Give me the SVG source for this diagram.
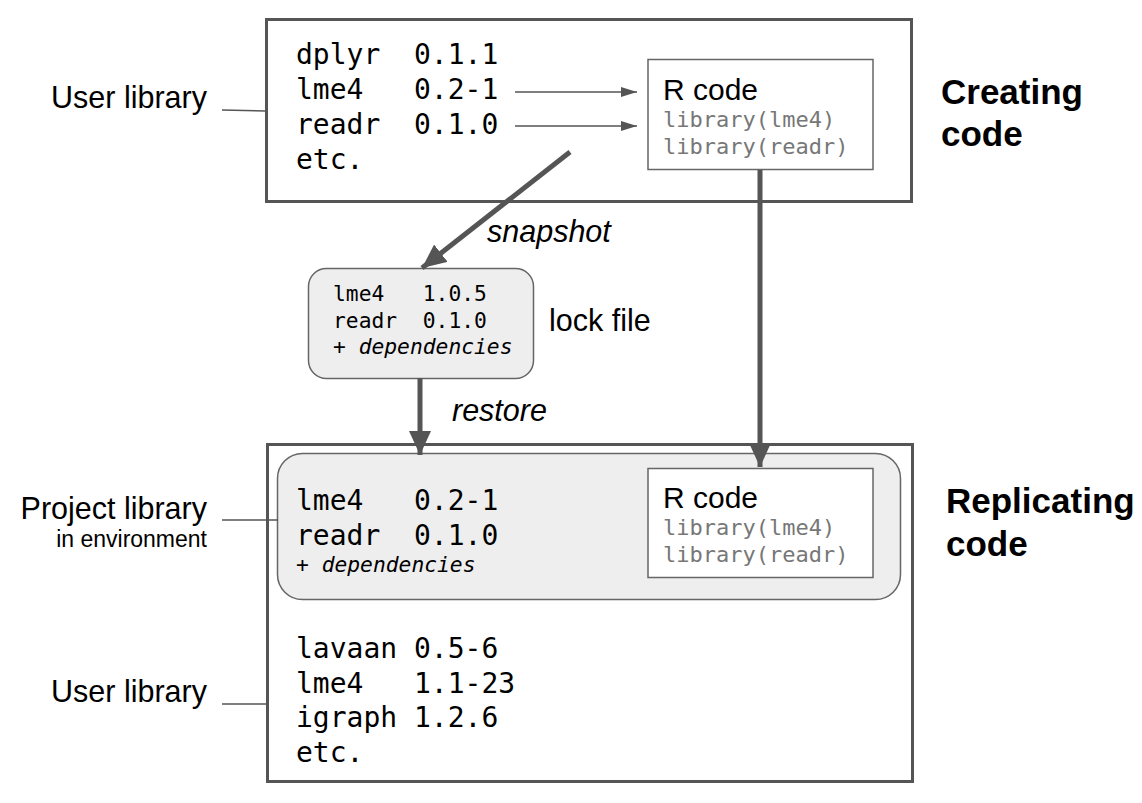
<svg xmlns="http://www.w3.org/2000/svg" width="1142" height="803" viewBox="0 0 1142 803">
<style>
.frame{fill:#fff;stroke:#555;stroke-width:3}
.box{fill:#fff;stroke:#666;stroke-width:1.5}
.gbox{fill:#eee;stroke:#666;stroke-width:1.5}
.mono{font-family:"DejaVu Sans Mono","Liberation Mono",monospace;fill:#000}
.big{font-size:28px}
.small{font-size:21.3px}
.lib{font-family:"DejaVu Sans Mono","Liberation Mono",monospace;font-size:22px;fill:#777}
.sans{font-family:"Liberation Sans",Arial,sans-serif;fill:#000}
.lbl{font-size:30.5px}
.bold{font-family:"Liberation Sans",Arial,sans-serif;font-weight:bold;font-size:35px;fill:#000}
.thin{stroke:#555;stroke-width:1.5;fill:none}
.thick{stroke:#555;stroke-width:5;fill:none}
</style>
<defs>
<marker id="ahs" markerWidth="16" markerHeight="10" refX="16" refY="5" orient="auto" markerUnits="userSpaceOnUse" viewBox="0 0 16 10"><path d="M0,0L16,5L0,10z" fill="#555"/></marker>
<marker id="ahb" markerWidth="24" markerHeight="22" refX="24" refY="11" orient="auto" markerUnits="userSpaceOnUse" viewBox="0 0 24 22"><path d="M0,0L24,11L0,22z" fill="#555"/></marker>
</defs>
<g id="top-frame">
<rect class="frame" x="266.5" y="19.5" width="645" height="182"/>
<text class="mono big" x="296" y="64" xml:space="preserve">dplyr  0.1.1</text>
<text class="mono big" x="296" y="99" xml:space="preserve">lme4   0.2-1</text>
<text class="mono big" x="296" y="134" xml:space="preserve">readr  0.1.0</text>
<text class="mono big" x="296" y="169">etc.</text>
</g>
<g id="top-rcode">
<rect class="box" x="648" y="59.5" width="225" height="110"/>
<text class="sans" x="663" y="100" font-size="30">R code</text>
<text class="lib" x="663" y="127">library(lme4)</text>
<text class="lib" x="663" y="154">library(readr)</text>
</g>
<g id="creating-label"><text class="bold" x="941" y="104">Creating</text><text class="bold" x="941" y="146">code</text></g>
<g id="user-lib-top"><text class="sans lbl" x="207" y="108" text-anchor="end">User library</text></g>
<g id="lockfile">
<rect class="gbox" x="308.5" y="268.5" width="225" height="110" rx="18"/>
<text class="mono small" x="333" y="301" xml:space="preserve">lme4   1.0.5</text>
<text class="mono small" x="333" y="328" xml:space="preserve">readr  0.1.0</text>
<text class="mono small" x="333" y="354" font-style="italic">+ dependencies</text>
<text class="sans lbl" x="549" y="331">lock file</text>
</g>
<g id="bottom-frame">
<rect class="frame" x="267.5" y="444.5" width="645" height="337"/>
<text class="mono big" x="296" y="658" xml:space="preserve">lavaan 0.5-6</text>
<text class="mono big" x="296" y="693" xml:space="preserve">lme4   1.1-23</text>
<text class="mono big" x="296" y="727" xml:space="preserve">igraph 1.2.6</text>
<text class="mono big" x="296" y="762">etc.</text>
</g>
<g id="project-lib">
<rect class="gbox" x="277.5" y="453.5" width="623" height="146" rx="25"/>
<text class="mono big" x="296" y="510" xml:space="preserve">lme4   0.2-1</text>
<text class="mono big" x="296" y="545" xml:space="preserve">readr  0.1.0</text>
<text class="mono small" x="296" y="572" font-style="italic">+ dependencies</text>
</g>
<g id="bottom-rcode">
<rect class="box" x="648" y="468.5" width="225" height="109"/>
<text class="sans" x="663" y="508" font-size="30">R code</text>
<text class="lib" x="663" y="535">library(lme4)</text>
<text class="lib" x="663" y="562">library(readr)</text>
</g>
<g id="replicating-label"><text class="bold" x="946" y="513">Replicating</text><text class="bold" x="946" y="556">code</text></g>
<g id="project-lib-label">
<text class="sans lbl" x="207" y="519" text-anchor="end">Project library</text>
<text class="sans" x="207" y="547" font-size="23" text-anchor="end">in environment</text>
</g>
<g id="user-lib-bottom"><text class="sans lbl" x="207" y="702" text-anchor="end">User library</text></g>
<g id="connectors">
<line class="thin" x1="222" y1="110" x2="266" y2="111"/>
<line class="thin" x1="222" y1="520" x2="278" y2="520"/>
<line class="thin" x1="222" y1="704" x2="267" y2="704"/>
<line class="thin" x1="515" y1="92" x2="637" y2="92" marker-end="url(#ahs)"/>
<line class="thin" x1="515" y1="126" x2="637" y2="126" marker-end="url(#ahs)"/>
<line class="thick" x1="570" y1="152" x2="422" y2="268" marker-end="url(#ahb)"/>
<line class="thick" x1="420" y1="378" x2="420" y2="455" marker-end="url(#ahb)"/>
<line class="thick" x1="760" y1="170" x2="760" y2="467" marker-end="url(#ahb)"/>
<text class="sans lbl" x="487" y="242" font-style="italic">snapshot</text>
<text class="sans lbl" x="452" y="421" font-style="italic">restore</text>
</g>
</svg>
